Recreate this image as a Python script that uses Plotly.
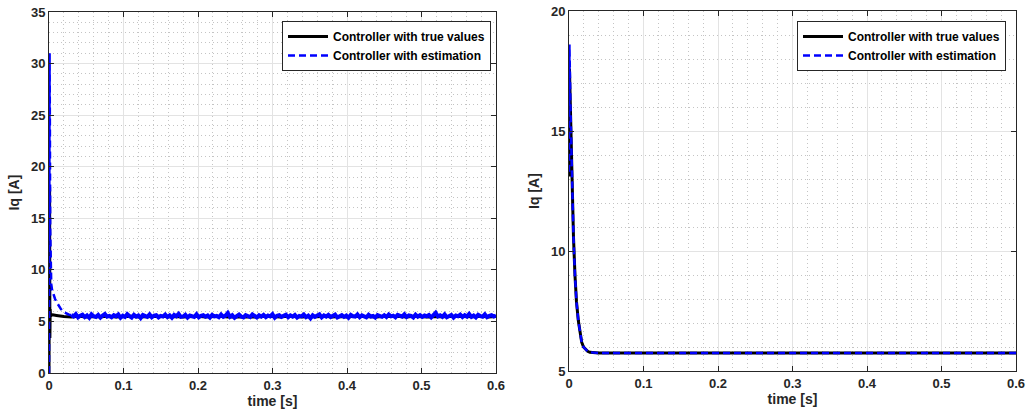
import plotly.graph_objects as go

# ---------------- data ----------------
# Left panel: transients
t_true_tr = [0, 0.0004, 0.0008, 0.0012, 0.0016, 0.002, 0.003, 0.005, 0.01, 0.015, 0.02]
iq_true_tr = [0, 10, 18, 3.4, 6.2, 5.5, 5.62, 5.64, 5.58, 5.52, 5.47]
t_est_tr = [0, 0.0004, 0.0008, 0.0012, 0.0016, 0.002, 0.003, 0.004, 0.006, 0.008,
            0.010, 0.013, 0.016, 0.020, 0.024, 0.027, 0.030]
iq_est_tr = [0, 16, 31, 24, 14, 9.5, 8.6, 8.1, 7.6, 7.2, 6.9, 6.5, 6.2, 5.9, 5.75, 5.65, 5.62]

# Left panel: steady-state (sampled) values
step_true = 0.01
iq_true_ss = [5.47, 5.44, 5.50, 5.43, 5.48, 5.45, 5.51, 5.42, 5.46, 5.49, 5.44, 5.47, 5.43, 5.50,
              5.45, 5.48, 5.42, 5.46, 5.49, 5.44, 5.47, 5.51, 5.43, 5.46, 5.48, 5.45, 5.42, 5.49,
              5.47, 5.44, 5.50, 5.46, 5.43, 5.48, 5.45, 5.51, 5.44, 5.47, 5.42, 5.49, 5.46, 5.48,
              5.43, 5.50, 5.45, 5.47, 5.44, 5.49, 5.46, 5.42, 5.48, 5.45, 5.50, 5.47, 5.43, 5.46,
              5.49, 5.44, 5.47]
step_est = 0.003
iq_est_ss = [5.62, 5.48, 5.71, 5.39, 5.55, 5.66, 5.42, 5.58, 5.35, 5.69, 5.51, 5.44, 5.63, 5.37, 5.57, 5.72, 5.46, 5.53, 5.40, 5.61,
             5.49, 5.67, 5.36, 5.55, 5.43, 5.70, 5.52, 5.38, 5.64, 5.47, 5.58, 5.33, 5.62, 5.50, 5.45, 5.68, 5.41, 5.56, 5.60, 5.39,
             5.54, 5.47, 5.66, 5.42, 5.59, 5.36, 5.63, 5.51, 5.74, 5.44, 5.48, 5.65, 5.38, 5.57, 5.52, 5.43, 5.69, 5.40, 5.55, 5.61,
             5.46, 5.58, 5.37, 5.64, 5.49, 5.53, 5.41, 5.67, 5.45, 5.56, 5.82, 5.44, 5.60, 5.35, 5.52, 5.66, 5.47, 5.39, 5.62, 5.50,
             5.43, 5.68, 5.54, 5.38, 5.59, 5.46, 5.63, 5.41, 5.57, 5.48, 5.70, 5.36, 5.55, 5.61, 5.44, 5.52, 5.65, 5.40, 5.58, 5.47,
             5.62, 5.37, 5.54, 5.49, 5.67, 5.42, 5.56, 5.30, 5.60, 5.45, 5.53, 5.69, 5.39, 5.58, 5.47, 5.64, 5.43, 5.51, 5.66, 5.38,
             5.55, 5.61, 5.44, 5.57, 5.36, 5.63, 5.50, 5.46, 5.68, 5.41, 5.59, 5.52, 5.40, 5.65, 5.48, 5.54, 5.37, 5.62, 5.56, 5.45,
             5.60, 5.43, 5.67, 5.49, 5.55, 5.39, 5.64, 5.51, 5.47, 5.70, 5.42, 5.58, 5.53, 5.38, 5.66, 5.46, 5.61, 5.44, 5.57, 5.50,
             5.63, 5.40, 5.56, 5.84, 5.48, 5.59, 5.45, 5.68, 5.41, 5.54, 5.62, 5.37, 5.57, 5.50, 5.66, 5.43, 5.60, 5.47, 5.73, 5.44,
             5.58, 5.39, 5.64, 5.52, 5.46, 5.69, 5.41, 5.55, 5.61, 5.48, 5.57]

# Right panel
t_right = [0, 0.0006, 0.002, 0.004, 0.006, 0.008, 0.010, 0.0125, 0.015, 0.017, 0.0195,
           0.022, 0.025, 0.028, 0.032, 0.04, 0.1, 0.2, 0.3, 0.4, 0.5, 0.6]
iq_true_r = [13.1, 17.6, 15.8, 13.0, 10.6, 9.0, 7.9, 7.1, 6.55, 6.2, 6.0,
             5.9, 5.82, 5.78, 5.76, 5.75, 5.75, 5.75, 5.75, 5.75, 5.75, 5.75]
iq_est_r = [13.3, 18.6, 15.9, 13.0, 10.6, 9.0, 7.9, 7.1, 6.55, 6.2, 6.0,
            5.9, 5.82, 5.78, 5.76, 5.75, 5.75, 5.75, 5.75, 5.75, 5.75, 5.75]

x_ticks = [0, 0.1, 0.2, 0.3, 0.4, 0.5, 0.6]
x_tick_text = ["0", "0.1", "0.2", "0.3", "0.4", "0.5", "0.6"]

name_true = "Controller with true values"
name_est = "Controller with estimation"

t_true_ss = [0.02 + step_true * i for i in range(len(iq_true_ss))]
t_est_ss = [0.03 + step_est * i for i in range(len(iq_est_ss))]

BLUE = "#0000ff"
FONT = "Liberation Sans, Arial, sans-serif"
AX = "#262626"

fig = go.Figure()
# left panel
fig.add_trace(go.Scatter(x=t_true_tr + t_true_ss, y=iq_true_tr + iq_true_ss, mode="lines",
                         line=dict(color="black", width=3), name=name_true,
                         xaxis="x", yaxis="y", legend="legend"))
fig.add_trace(go.Scatter(x=t_est_ss, y=iq_est_ss, mode="lines",
                         line=dict(color=BLUE, width=4), showlegend=False,
                         xaxis="x", yaxis="y", hoverinfo="skip"))
fig.add_trace(go.Scatter(x=t_est_tr, y=iq_est_tr, mode="lines",
                         line=dict(color=BLUE, width=2.5, dash="7px,4px"), name=name_est,
                         xaxis="x", yaxis="y", legend="legend"))
# right panel
fig.add_trace(go.Scatter(x=t_right, y=iq_true_r, mode="lines",
                         line=dict(color="black", width=3), name=name_true,
                         xaxis="x2", yaxis="y2", legend="legend2"))
fig.add_trace(go.Scatter(x=t_right, y=iq_est_r, mode="lines",
                         line=dict(color=BLUE, width=2.5, dash="7px,4px"), name=name_est,
                         xaxis="x2", yaxis="y2", legend="legend2"))

W, H = 1027, 418


def fx(px):
    return px / W


def fy(py):
    return 1 - py / H


def xax(dom, anchor):
    return dict(domain=dom, anchor=anchor, range=[0, 0.6], tickvals=x_ticks, ticktext=x_tick_text,
                automargin=False, ticklabeloverflow="allow",
                showline=True, linecolor=AX, linewidth=1, mirror="ticks", ticks="inside",
                ticklen=5, tickcolor=AX, showgrid=True, gridcolor="#e3e3e3", gridwidth=1,
                zeroline=False, tickfont=dict(family=FONT, size=13, color=AX, weight="bold"),
                title=dict(text="time [s]", font=dict(family=FONT, size=14, color=AX, weight="bold"),
                           standoff=4),
                minor=dict(dtick=0.02, showgrid=True, gridcolor="#c4c4c4", griddash="1px,3px",
                           gridwidth=1, ticks=""))


def yax(dom, anchor, rng, dtick):
    return dict(domain=dom, anchor=anchor, range=rng, dtick=dtick,
                automargin=False, ticklabeloverflow="allow",
                showline=True, linecolor=AX, linewidth=1, mirror="ticks", ticks="inside",
                ticklen=5, tickcolor=AX, showgrid=True, gridcolor="#e3e3e3", gridwidth=1,
                zeroline=False, tickfont=dict(family=FONT, size=13, color=AX, weight="bold"),
                title=dict(text="Iq [A]", font=dict(family=FONT, size=14, color=AX, weight="bold"),
                           standoff=8),
                minor=dict(dtick=1, showgrid=True, gridcolor="#c4c4c4", griddash="1px,3px",
                           gridwidth=1, ticks=""))


legend_style = dict(bgcolor="white", bordercolor=AX, borderwidth=1,
                    font=dict(family=FONT, size=12, color="black", weight="bold"),
                    xanchor="right", yanchor="top", tracegroupgap=0, itemwidth=40)

fig.update_layout(
    width=W, height=H,
    margin=dict(l=0, r=0, t=0, b=0),
    paper_bgcolor="white", plot_bgcolor="white",
    xaxis=xax([fx(49), fx(496)], "y"),
    yaxis=yax([fy(373), fy(12)], "x", [0, 35], 5),
    xaxis2=xax([fx(569), fx(1016)], "y2"),
    yaxis2=yax([fy(371), fy(11)], "x2", [5, 20], 5),
    legend=dict(x=fx(491), y=fy(21), **legend_style),
    legend2=dict(x=fx(1006), y=fy(21), **legend_style),
)

# remove the default page margin so the figure fills the window exactly
fig.write_html("out.html", config={"displayModeBar": False},
               post_script="document.body.style.margin='0';document.body.style.overflow='hidden';")
